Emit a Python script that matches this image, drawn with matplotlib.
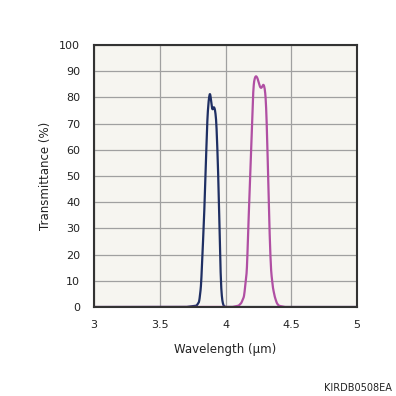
import numpy as np
import matplotlib.pyplot as plt

# Wavelength (um) and transmittance (%)
wl_a = [3.0, 3.70, 3.78, 3.80, 3.814, 3.837, 3.862, 3.872, 3.882, 3.892, 3.900, 3.910, 3.920,
        3.930, 3.942, 3.951, 3.959, 3.966, 3.975, 3.985, 4.0, 5.0]
tr_a = [0.0, 0.0, 0.5, 2.0, 8.0, 34.0, 72.0, 79.0, 82.0, 78.0, 75.0, 76.5, 75.5,
        71.0, 55.0, 38.0, 20.0, 8.0, 2.5, 0.5, 0.0, 0.0]

wl_b = [3.0, 4.05, 4.10, 4.12, 4.141, 4.163, 4.171, 4.189, 4.207, 4.214, 4.223, 4.232, 4.242,
        4.251, 4.262, 4.272, 4.282, 4.290, 4.300, 4.308, 4.316, 4.323, 4.336, 4.346,
        4.360, 4.374, 4.390, 4.405, 4.45, 5.0]
tr_b = [0.0, 0.0, 0.5, 1.5, 4.0, 14.0, 27.0, 52.0, 78.0, 85.0, 87.5, 88.2, 87.5,
        86.0, 84.0, 83.5, 84.5, 85.0, 83.0, 78.0, 66.0, 52.0, 27.0, 14.0,
        7.5, 4.0, 1.5, 0.5, 0.0, 0.0]

xticks = [3, 3.5, 4, 4.5, 5]
xticklabels = ['3', '3.5', '4', '4.5', '5']
yticks = list(range(0, 101, 10))

fig = plt.figure(figsize=(3.96, 3.96), dpi=100)
ax = fig.add_axes([0.2374, 0.2247, 0.6641, 0.6617])
ax.set_facecolor('#f6f5f0')

def smooth(x, y):
    xs = np.linspace(min(x), max(x), 2001)
    ys = np.interp(xs, x, y)
    k = np.ones(9) / 9
    ys = np.convolve(ys, k, mode='same')
    return xs, ys

xa, ya = smooth(wl_a, tr_a)
xb, yb = smooth(wl_b, tr_b)
ax.plot(xa, ya, color='#1f2f63', lw=1.6)
ax.plot(xb, yb, color='#b04fa3', lw=1.6)

ax.set_xlim(3, 5)
ax.set_ylim(0, 100)
ax.set_xticks(xticks)
ax.set_xticklabels(xticklabels)
ax.set_yticks(yticks)
ax.grid(True, color='#a0a0a0', lw=0.9)
ax.set_axisbelow(True)
ax.tick_params(length=0, labelsize=8, pad=9, colors='#222222')
ax.tick_params(axis='y', pad=10)
for s in ax.spines.values():
    s.set_color('#333333')
    s.set_linewidth(1.5)

ax.set_xlabel('Wavelength (μm)', fontsize=8.5, labelpad=10, color='#222222')
ax.set_ylabel('Transmittance (%)', fontsize=8.5, labelpad=5, color='#222222')
fig.text(0.99, 0.008, 'KIRDB0508EA', ha='right', va='bottom', fontsize=7, color='#222222')

fig.savefig('out.png', dpi=100)
